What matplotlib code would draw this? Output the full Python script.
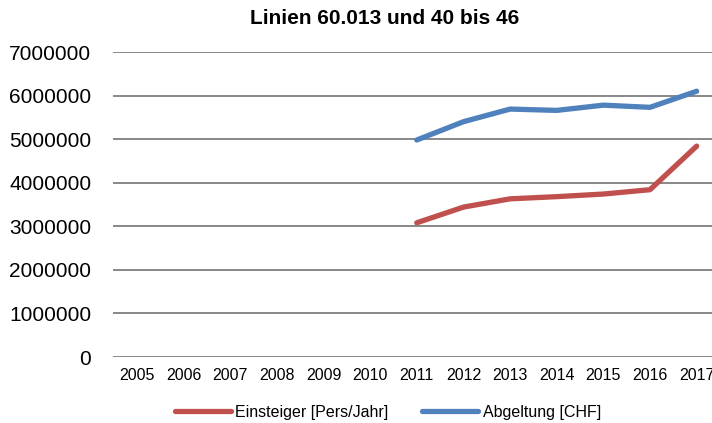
import numpy as np
import matplotlib.pyplot as plt

plt.rcParams['font.family'] = ['Liberation Sans', 'DejaVu Sans']

years = ['2005', '2006', '2007', '2008', '2009', '2010', '2011',
         '2012', '2013', '2014', '2015', '2016', '2017']
nan = np.nan
einsteiger = [nan, nan, nan, nan, nan, nan,
              3080000, 3440000, 3630000, 3680000, 3740000, 3840000, 4840000]
abgeltung = [nan, nan, nan, nan, nan, nan,
             4980000, 5400000, 5690000, 5660000, 5780000, 5730000, 6100000]
yticks = [0, 1000000, 2000000, 3000000, 4000000, 5000000, 6000000, 7000000]

red = '#C0504D'
blue = '#4F81BD'
grid = '#888888'

fig = plt.figure(figsize=(7.12, 4.23), dpi=100)
ax = fig.add_axes([113.5/712, 1-357/423, 606.5/712, 305/423])

x = np.arange(len(years))
for y in yticks:
    ax.axhline(y, color=grid, lw=1.4, zorder=1)
ax.plot(x, einsteiger, color=red, lw=3.8, solid_capstyle='round',
        label='Einsteiger [Pers/Jahr]', zorder=3)
ax.plot(x, abgeltung, color=blue, lw=3.8, solid_capstyle='round',
        label='Abgeltung [CHF]', zorder=3)

ax.set_xlim(-0.5, len(years) - 0.5)
ax.set_ylim(0, 7000000)
ax.set_xticks(x)
ax.set_xticklabels(years, fontsize=11.5)
ax.set_yticks(yticks)
ax.set_yticklabels([str(v) for v in yticks], fontsize=15)
ax.tick_params(axis='both', length=0)
ax.tick_params(axis='y', pad=16)
ax.tick_params(axis='x', pad=8)
for s in ax.spines.values():
    s.set_visible(False)

fig.text(385/712, 1-19/423, 'Linien 60.013 und 40 bis 46', ha='center', va='center',
         fontsize=15, fontweight='bold')

fig.legend(loc='center', bbox_to_anchor=(388/712, 11/423), ncol=2, frameon=False,
           fontsize=11.5, handlelength=3.5, handletextpad=0.3, columnspacing=2.1)

fig.savefig('out.png', dpi=100)
